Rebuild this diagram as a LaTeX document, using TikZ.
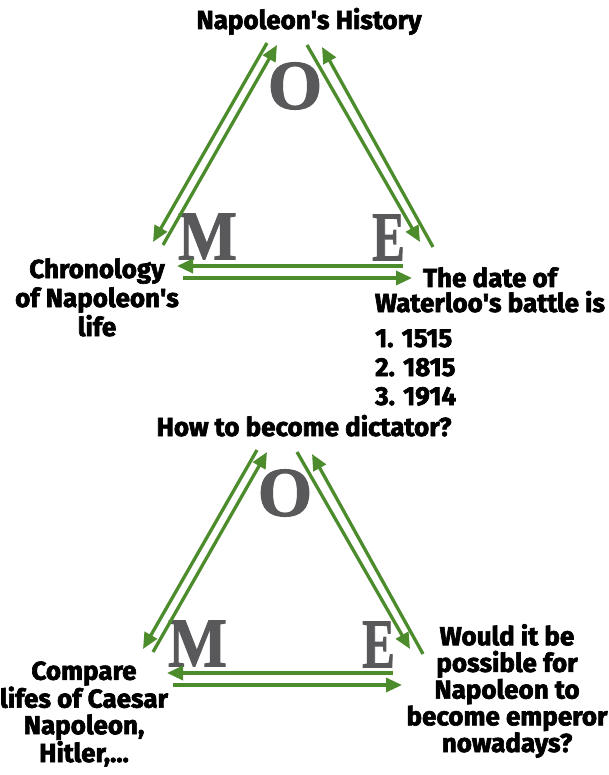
\documentclass[tikz,border=0pt]{standalone}
\usepackage{fontspec}
\setmainfont{Fira Sans}[BoldFeatures={FakeBold=2.5}]
\newfontfamily\letterfont{Liberation Serif}[BoldFeatures={FakeBold=1.5}]
\usetikzlibrary{arrows.meta}
\definecolor{arrowgreen}{HTML}{4C8C2C}
\definecolor{lettergray}{HTML}{59595B}
\newcommand\apo{\textquotesingle}
\tikzset{
  conn/.style={draw=arrowgreen, line width=3.3pt, -{Triangle[length=16pt,width=14pt]}},
  lbl/.style={font=\bfseries\fontsize{26}{28}\selectfont, align=center, inner sep=0pt},
  bigletter/.style={font=\letterfont\bfseries\fontsize{70}{70}\selectfont, text=lettergray, inner sep=0pt},
}
\newcommand\omeTri[3]{%
  \begin{scope}[shift={(#2,#3)}]
    \node[bigletter] (#1O) at (295,86) {O};
    \node[bigletter, xscale=0.89] (#1M) at (207.5,236.5) {M};
    \node[bigletter, xscale=0.70] (#1E) at (388.5,237.5) {E};
    \coordinate (#1l1s) at (267,43);  \coordinate (#1l1e) at (153,242);
    \coordinate (#1l2s) at (163,245); \coordinate (#1l2e) at (277,45);
    \coordinate (#1r1s) at (307,45);  \coordinate (#1r1e) at (420,242);
    \coordinate (#1r2s) at (433,247); \coordinate (#1r2e) at (322,47);
    \coordinate (#1b1s) at (403,266); \coordinate (#1b1e) at (177,266);
    \coordinate (#1b2s) at (183,278); \coordinate (#1b2e) at (412,278);
    \draw[conn] (#1l1s) -- (#1l1e);
    \draw[conn] (#1l2s) -- (#1l2e);
    \draw[conn] (#1r1s) -- (#1r1e);
    \draw[conn] (#1r2s) -- (#1r2e);
    \draw[conn] (#1b1s) -- (#1b1e);
    \draw[conn] (#1b2s) -- (#1b2e);
  \end{scope}}
\begin{document}
\begin{tikzpicture}[x=1pt,y=-1pt]
  \useasboundingbox[fill=white] (0,0) rectangle (608,775);
  % top triangle
  \omeTri{t}{0}{0}
  \node[lbl, anchor=base] (title1) at (309,29) {Napoleon\apo s History};
  \node[lbl, anchor=base, font=\bfseries\fontsize{26}{29}\selectfont] (chron) at (97,336) {Chronology\\of Napoleon\apo s\\life};
  \node[lbl, anchor=base, font=\bfseries\fontsize{26}{25}\selectfont] (date) at (490,312) {The date of\\Waterloo\apo s battle is};
  \node[lbl, align=left, anchor=base west, font=\bfseries\fontsize{26}{29}\selectfont] (items) at (375,405) {1. 1515\\2. 1815\\3. 1914};
  % bottom triangle
  \omeTri{b}{-10}{407}
  \node[lbl, anchor=base] (title2) at (304,436) {How to become dictator?};
  \node[lbl, anchor=base, font=\bfseries\fontsize{26}{26.5}\selectfont] (comp) at (84,762) {Compare\\lifes of Caesar\\Napoleon,\\Hitler,...};
  \node[lbl, anchor=base, font=\bfseries\fontsize{26}{26.7}\selectfont] (would) at (507,752) {Would it be\\possible for\\Napoleon to\\become emperor\\nowadays?};
\end{tikzpicture}
\end{document}
